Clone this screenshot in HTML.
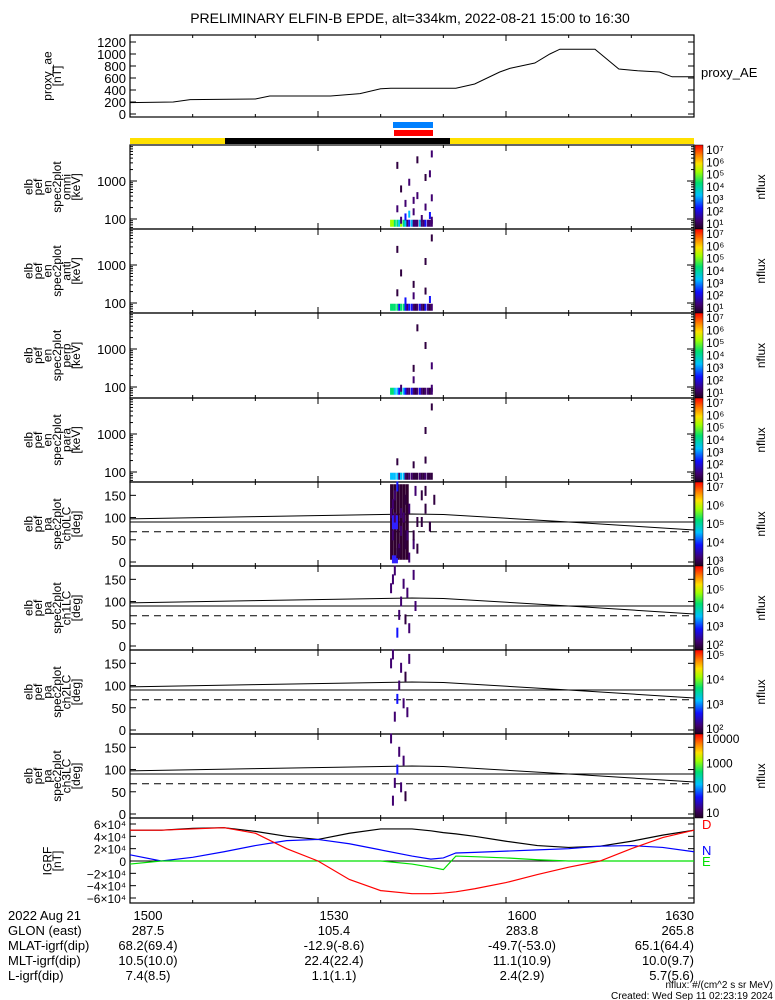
<!DOCTYPE html>
<html><head><meta charset="utf-8"><style>
body{margin:0;background:#fff;}
svg{display:block;font-family:"Liberation Sans",sans-serif;}
text{fill:#000;}
</style></head><body>
<svg id="chart" width="775" height="1000" viewBox="0 0 775 1000" xmlns="http://www.w3.org/2000/svg">
<defs>
<linearGradient id="cbar" x1="0" y1="1" x2="0" y2="0">
<stop offset="0" stop-color="#200020"/><stop offset="0.1" stop-color="#400070"/><stop offset="0.25" stop-color="#1010ff"/><stop offset="0.4" stop-color="#00c0ff"/><stop offset="0.55" stop-color="#00e070"/><stop offset="0.68" stop-color="#a0ff00"/><stop offset="0.78" stop-color="#ffe000"/><stop offset="0.88" stop-color="#ff8000"/><stop offset="1" stop-color="#ff0000"/>
</linearGradient>
</defs>
<text x="410" y="23" font-size="14" text-anchor="middle">PRELIMINARY ELFIN-B EPDE, alt=334km, 2022-08-21 15:00 to 16:30</text>
<g id="g"></g>
</svg>
<script>
// ---- data ----
const aeT = [0,6.9,9.6,20,22.3,32,36.7,40,41.6,52,55,59,60.6,64.6,67,68.6,74.2,78,81,84.5,86.5,90];
const aeV = [190,200,240,250,300,300,340,420,430,430,500,700,760,850,1000,1080,1080,750,720,700,620,620];
const igrfT = [0,5,10,15,20,25,30,35,40,45,48,50,52,55,60,65,70,75,80,85,90];
const igrfF = [50,50,53,54,48,40,35,45,52,52,49,46,44,40,32,25,22,24,32,42,50];
const igrfD = [50,50,52,54,45,20,0,-30,-48,-53,-53,-52,-50,-45,-35,-22,-10,0,20,38,50];
const igrfN = [10,0,6,15,25,33,35,28,18,8,3,5,13,14,16,18,20,24,25,22,15];
const igrfE = [-5,0,0,0,0,0,0,0,0,-5,-10,-14,8,7,5,2,0,0,0,0,0];
const specT = [41.5,41.8,42.1,42.5,42.8,43.1,43.5,43.8,44.1,44.4,44.8,45.1,45.4,45.7,46.1,46.4,46.7,47,47.4,47.7,48,43.1,43.8,44.4,45.1,46.4,47.7,48,42.5,43.8,45.1,45.7,47,48,43.1,44.4,47,47.7,42.5,45.7,48];
const specE = [75,75,75,75,75,75,75,75,75,75,75,75,75,75,75,75,75,75,75,75,75,90,110,130,150,100,120,90,180,250,300,400,200,350,600,900,1200,1500,2500,3500,5000];
const specV = [4.5,4.5,4,4,3,4.5,4,3,2,2.5,3,2,1.5,2,3,2,1.5,2.5,2,1.5,2,2,2.5,3,2,2,2.5,2,1.5,2,1.5,1.5,1.5,2,1,1.5,1,1.5,1,1,1.5];
const paT = [41.5,41.8,42.1,42.5,42.8,43.1,43.5,43.8,44.1,44.4,45.1,45.4,45.7,46.4,47,47.7,48.4,41.8,42.5,43.1,43.8,44.4,45.7,47,47.7,42.1,42.8,43.8,45.1,46.4];
const paA = [20,40,60,90,110,130,150,170,30,70,100,140,60,120,40,160,90,150,160,80,140,60,20,110,60,10,30,120,80,100];
const paV = [1.5,2,1.5,2.5,2,1.5,1.5,1,2,1.5,2,1.5,1,1,1,1,1,2,1,1.5,1,1.5,1,1,1,2,1,1,1,1];
const cbTicks = [["10⁷","10⁶","10⁵","10⁴","10³","10²","10¹"],["10⁷","10⁶","10⁵","10⁴","10³","10²","10¹"],["10⁷","10⁶","10⁵","10⁴","10³","10²","10¹"],["10⁷","10⁶","10⁵","10⁴","10³","10²","10¹"],["10⁷","10⁶","10⁵","10⁴","10³"],["10⁶","10⁵","10⁴","10³","10²"],["10⁵","10⁴","10³","10²"],["10000","1000","100","10"]];
const footRows = [["2022 Aug 21","1500","1530","1600","1630"],["GLON (east)","287.5","105.4","283.8","265.8"],["MLAT-igrf(dip)","68.2(69.4)","-12.9(-8.6)","-49.7(-53.0)","65.1(64.4)"],["MLT-igrf(dip)","10.5(10.0)","22.4(22.4)","11.1(10.9)","10.0(9.7)"],["L-igrf(dip)","7.4(8.5)","1.1(1.1)","2.4(2.9)","5.7(5.6)"]];
// ---- helpers ----
const NS="http://www.w3.org/2000/svg", G=document.getElementById('g');
const X0=130,X1=694;
const xT=t=>X0+t*(X1-X0)/90;
function mk(tag,at,txt){const e=document.createElementNS(NS,tag);for(const k in at)e.setAttribute(k,at[k]);if(txt!=null)e.textContent=txt;G.appendChild(e);return e;}
function colorOf(v){const s=["#300040","#400070","#1010ff","#00c0ff","#00e070","#a0ff00","#ffe000","#ff8000","#ff0000"];let i=Math.max(0,Math.min(8,Math.round((v-1)/6*8)));return s[i];}
function frame(top,bot,name){
  const r=mk('rect',{x:X0,y:top,width:X1-X0,height:bot-top,fill:'none',stroke:'#000','stroke-width':1.2});
  
  
  for(let t=0;t<=90;t+=10){const L=(t%30==0)?6:3;mk('line',{x1:xT(t),x2:xT(t),y1:bot,y2:bot-L,stroke:'#000'});mk('line',{x1:xT(t),x2:xT(t),y1:top,y2:top+L,stroke:'#000'});}
}
function ylabel(lines,cy,name){
  const t=mk('text',{transform:`translate(0,${cy}) rotate(-90)`,'font-size':12,'text-anchor':'middle'});
  
  
  lines.forEach((s,i)=>{const ts=document.createElementNS(NS,'tspan');ts.setAttribute('x',0);ts.setAttribute('y',36+i*9.5-(lines.length-1)*9.5/2+20);ts.textContent=s;t.appendChild(ts);});
}
// ---- AE panel ----
const aeTop=35,aeBot=117,aeY=v=>114-v*72/1200;
frame(aeTop,aeBot,'proxy-ae-panel');
[0,200,400,600,800,1000,1200].forEach(v=>{mk('text',{x:126,y:aeY(v)+5,'font-size':13,'text-anchor':'end'},v);mk('line',{x1:X0,x2:X0+6,y1:aeY(v),y2:aeY(v),stroke:'#000'});mk('line',{x1:X1,x2:X1-6,y1:aeY(v),y2:aeY(v),stroke:'#000'});});
let d=aeT.map((t,i)=>(i?'L':'M')+xT(t)+','+aeY(aeV[i])).join('');
const ael=mk('path',{d,fill:'none',stroke:'#000','stroke-width':1});


mk('text',{x:701,y:77,'font-size':13},'proxy_AE');
ylabel(['proxy_ae','[nT]'],76,'proxy-ae-axis-title');
// bars
const bb=mk('rect',{x:393,y:122,width:40,height:6,fill:'#0080ff'});
const rb=mk('rect',{x:394,y:130,width:39,height:6,fill:'#ff0000'});
const yb=mk('rect',{x:X0,y:138,width:X1-X0,height:6,fill:'#ffe000'});
const kb=mk('rect',{x:225,y:138,width:225,height:6,fill:'#000'});
// ---- panels ----
const tops=[145,229,313,398,482,566,650,734,818];
const specNames=['omni','anti','perp','para'];
for(let p=0;p<8;p++){
  const top=tops[p],bot=tops[p+1];
  frame(top,bot,'panel-'+(p+1));
  const cb=mk('rect',{x:695,y:top,width:8,height:bot-top,fill:'url(#cbar)',stroke:'#000','stroke-width':0.5});
  
  
  const tk=cbTicks[p];
  tk.forEach((s,i)=>mk('text',{x:706,y:top+9+i*(bot-top-10)/(tk.length-1),'font-size':12},s));
  mk('text',{transform:`translate(765,${(top+bot)/2}) rotate(-90)`,'font-size':12,'text-anchor':'middle'},'nflux');
  if(p<4){
    const yE=e=>top+74-(Math.log10(e)-2)*38;
    [[100,'100'],[1000,'1000']].forEach(([e,s])=>{mk('text',{x:126,y:yE(e)+5,'font-size':13,'text-anchor':'end'},s);mk('line',{x1:X0,x2:X0+7,y1:yE(e),y2:yE(e),stroke:'#000'});mk('line',{x1:X1,x2:X1-7,y1:yE(e),y2:yE(e),stroke:'#000'});});
    for(let dec=1;dec<4;dec++)for(let m=2;m<10;m++){const y=yE(m*Math.pow(10,dec));if(y>top&&y<bot){mk('line',{x1:X0,x2:X0+3,y1:y,y2:y,stroke:'#000'});mk('line',{x1:X1,x2:X1-3,y1:y,y2:y,stroke:'#000'});}}
    specT.forEach((t,i)=>{ if(p>0 && i%(p+1)!==0 && specE[i]>80) return;
      const r=mk('rect',{x:xT(t),y:yE(specE[i])-4,width:2,height:7,fill:colorOf(specV[i]-p*0.3)});
      
      
    });
    ylabel(['elb','pef','en','spec2plot',specNames[p],'[keV]'],(top+bot)/2,'panel-'+(p+1)+'-axis-title');
  } else {
    const yA=a=>top+80-a*80/180;
    [0,50,100,150].forEach(a=>{mk('text',{x:126,y:yA(a)+5,'font-size':13,'text-anchor':'end'},a);mk('line',{x1:X0,x2:X0+6,y1:yA(a),y2:yA(a),stroke:'#000'});mk('line',{x1:X1,x2:X1-6,y1:yA(a),y2:yA(a),stroke:'#000'});});
    mk('line',{x1:X0,x2:X1,y1:yA(90),y2:yA(90),stroke:'#000'});
    mk('line',{x1:X0,x2:X1,y1:yA(68),y2:yA(68),stroke:'#000','stroke-dasharray':'7,5'});
    const lcT=[0,20,45,50,70,90],lcA=[97,102,108,107,90,72];
    const lc=mk('path',{d:lcT.map((t,i)=>(i?'L':'M')+xT(t)+','+yA(lcA[i])).join(''),fill:'none',stroke:'#000'});
    
    
    if(p==4){ for(let t=41.5;t<=44;t+=0.5){ const r=mk('rect',{x:xT(t),y:yA(175),width:3,height:yA(5)-yA(175),fill:'#300030'});}
      mk('rect',{x:xT(41.8),y:yA(105),width:6,height:14,fill:'#3020ff'});mk('rect',{x:xT(41.8),y:yA(15),width:6,height:8,fill:'#3020ff'});}
    const n=[30,12,10,8][p-4];
    paT.forEach((t,i)=>{ if(i>=n) return;
      const r=mk('rect',{x:xT(t),y:yA(paA[(i+p)%paA.length])-5,width:2,height:10,fill:colorOf(paV[i])});
      
      
    });
    ylabel(['elb','pef','pa','spec2plot','ch'+(p-4)+'LC','[deg]'],(top+bot)/2,'panel-'+(p+1)+'-axis-title');
  }
}
// ---- IGRF ----
const iTop=818,iBot=903,yI=v=>861-v*37/60;
frame(iTop,iBot,'igrf-panel');
[[60,'6×10⁴'],[40,'4×10⁴'],[20,'2×10⁴'],[0,'0'],[-20,'−2×10⁴'],[-40,'−4×10⁴'],[-60,'−6×10⁴']].forEach(([v,s])=>{mk('text',{x:126,y:yI(v)+5,'font-size':12,'text-anchor':'end'},s);mk('line',{x1:X0,x2:X0+6,y1:yI(v),y2:yI(v),stroke:'#000'});mk('line',{x1:X1,x2:X1-6,y1:yI(v),y2:yI(v),stroke:'#000'});});
mk('line',{x1:X0,x2:X1,y1:yI(0),y2:yI(0),stroke:'#000'});
[[igrfF,'#000','igrf-total'],[igrfN,'#0000ff','igrf-n'],[igrfE,'#00e000','igrf-e'],[igrfD,'#ff0000','igrf-d']].forEach(([arr,c,nm])=>{
  const l=mk('path',{d:igrfT.map((t,i)=>(i?'L':'M')+xT(t)+','+yI(arr[i])).join(''),fill:'none',stroke:c,'stroke-width':1.2});
  
  
});
mk('text',{x:702,y:829,'font-size':13}).textContent='D';
G.lastChild.style.fill='#ff0000';
mk('text',{x:702,y:855,'font-size':13},'N').style.fill='#0000ff';
mk('text',{x:702,y:866,'font-size':13},'E').style.fill='#00e000';
ylabel(['IGRF','[nT]'],861,'igrf-axis-title');
// ---- footer ----
const colX=[8,148,334,522,694];
footRows.forEach((row,r)=>row.forEach((s,c)=>mk('text',{x:colX[c],y:920+r*15,'font-size':13,'text-anchor':c==0?'start':(c==4?'end':'middle')},s)));
mk('text',{x:773,y:988,'font-size':10,'text-anchor':'end'},'nflux: #/(cm^2 s sr MeV)');
mk('text',{x:773,y:999,'font-size':10,'text-anchor':'end'},'Created: Wed Sep 11 02:23:19 2024');
</script>
</body></html>
